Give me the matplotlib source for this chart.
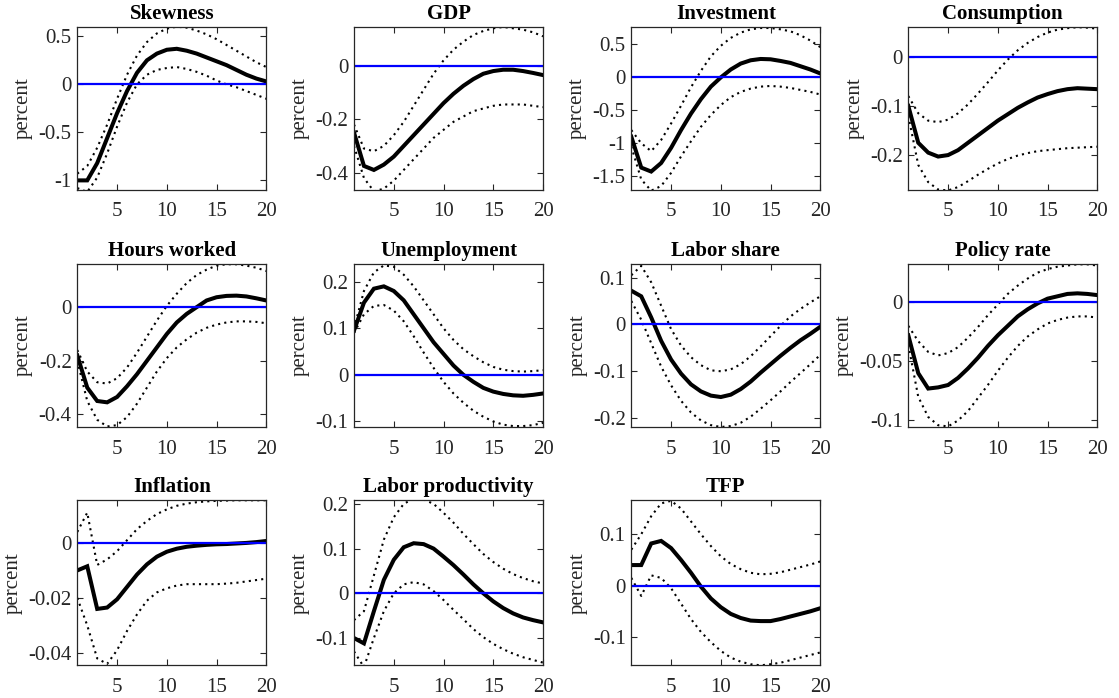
import numpy as np
import matplotlib
matplotlib.use("Agg")
from matplotlib import pyplot as plt
from matplotlib.ticker import FuncFormatter

plt.rcParams['font.family'] = ['Liberation Serif', 'DejaVu Serif']
plt.rcParams['axes.unicode_minus'] = False

horizon = np.arange(1, 21)

titles = ["Skewness", "GDP", "Investment", "Consumption",
          "Hours worked", "Unemployment", "Labor share", "Policy rate",
          "Inflation", "Labor productivity", "TFP"]

skew_med = [-1.0, -1.0, -0.82, -0.56, -0.3, -0.07, 0.12, 0.25, 0.32, 0.36, 0.37, 0.35, 0.32, 0.28, 0.24, 0.2, 0.15, 0.1, 0.06, 0.03]
skew_hi = [-0.93, -0.85, -0.66, -0.42, -0.15, 0.1, 0.3, 0.44, 0.53, 0.58, 0.6, 0.59, 0.56, 0.52, 0.47, 0.41, 0.35, 0.29, 0.23, 0.18]
skew_lo = [-1.08, -1.12, -0.97, -0.72, -0.44, -0.19, 0.0, 0.1, 0.15, 0.17, 0.18, 0.16, 0.13, 0.09, 0.04, 0.0, -0.03, -0.07, -0.11, -0.15]

gdp_med = [-0.25, -0.375, -0.39, -0.37, -0.34, -0.3, -0.26, -0.22, -0.18, -0.14, -0.105, -0.075, -0.05, -0.03, -0.02, -0.015, -0.015, -0.02, -0.027, -0.035]
gdp_hi = [-0.22, -0.31, -0.32, -0.3, -0.26, -0.21, -0.15, -0.09, -0.03, 0.02, 0.06, 0.09, 0.115, 0.13, 0.14, 0.145, 0.14, 0.135, 0.125, 0.11]
gdp_lo = [-0.3, -0.42, -0.47, -0.46, -0.43, -0.39, -0.35, -0.31, -0.27, -0.24, -0.21, -0.19, -0.17, -0.16, -0.15, -0.145, -0.145, -0.145, -0.15, -0.155]

inv_med = [-0.9, -1.37, -1.43, -1.3, -1.07, -0.8, -0.55, -0.33, -0.14, 0.0, 0.12, 0.21, 0.26, 0.28, 0.275, 0.25, 0.22, 0.17, 0.12, 0.06]
inv_hi = [-0.8, -1.0, -1.12, -0.95, -0.7, -0.43, -0.15, 0.1, 0.32, 0.48, 0.6, 0.68, 0.73, 0.75, 0.75, 0.73, 0.7, 0.64, 0.56, 0.46]
inv_lo = [-1.05, -1.55, -1.72, -1.65, -1.45, -1.2, -0.97, -0.75, -0.57, -0.42, -0.3, -0.22, -0.17, -0.14, -0.13, -0.14, -0.16, -0.19, -0.22, -0.26]

cons_med = [-0.1, -0.175, -0.195, -0.203, -0.2, -0.19, -0.175, -0.16, -0.145, -0.13, -0.117, -0.104, -0.093, -0.083, -0.076, -0.07, -0.066, -0.064, -0.065, -0.066]
cons_hi = [-0.08, -0.115, -0.13, -0.133, -0.128, -0.115, -0.097, -0.075, -0.052, -0.028, -0.006, 0.013, 0.028, 0.04, 0.049, 0.055, 0.058, 0.06, 0.059, 0.057]
cons_lo = [-0.12, -0.22, -0.255, -0.27, -0.272, -0.265, -0.253, -0.24, -0.228, -0.217, -0.208, -0.201, -0.196, -0.192, -0.19, -0.188, -0.186, -0.185, -0.184, -0.183]

hours_med = [-0.18, -0.3, -0.35, -0.355, -0.335, -0.295, -0.25, -0.2, -0.15, -0.1, -0.057, -0.025, 0.0, 0.025, 0.037, 0.042, 0.043, 0.04, 0.033, 0.025]
hours_hi = [-0.16, -0.24, -0.28, -0.285, -0.265, -0.225, -0.17, -0.11, -0.05, 0.005, 0.05, 0.09, 0.12, 0.14, 0.155, 0.16, 0.16, 0.155, 0.147, 0.135]
hours_lo = [-0.2, -0.35, -0.42, -0.445, -0.44, -0.41, -0.36, -0.3, -0.24, -0.19, -0.15, -0.12, -0.095, -0.077, -0.065, -0.057, -0.053, -0.053, -0.055, -0.06]

unemp_med = [0.095, 0.155, 0.185, 0.19, 0.18, 0.16, 0.13, 0.1, 0.07, 0.045, 0.02, 0.0, -0.015, -0.028, -0.036, -0.041, -0.044, -0.045, -0.043, -0.04]
unemp_hi = [0.1, 0.18, 0.22, 0.235, 0.232, 0.215, 0.19, 0.16, 0.13, 0.1, 0.075, 0.055, 0.04, 0.027, 0.017, 0.011, 0.008, 0.007, 0.008, 0.01]
unemp_lo = [0.09, 0.13, 0.148, 0.15, 0.138, 0.115, 0.083, 0.048, 0.015, -0.015, -0.04, -0.06, -0.077, -0.09, -0.1, -0.107, -0.11, -0.11, -0.108, -0.103]

lshare_med = [0.072, 0.06, 0.015, -0.035, -0.075, -0.105, -0.128, -0.143, -0.152, -0.155, -0.15, -0.138, -0.122, -0.103, -0.085, -0.067, -0.05, -0.034, -0.02, -0.005]
lshare_hi = [0.105, 0.125, 0.09, 0.04, -0.01, -0.045, -0.07, -0.087, -0.098, -0.1, -0.096, -0.085, -0.068, -0.047, -0.025, -0.003, 0.017, 0.033, 0.047, 0.06]
lshare_lo = [0.05, 0.01, -0.04, -0.09, -0.13, -0.163, -0.188, -0.205, -0.215, -0.219, -0.217, -0.21, -0.197, -0.18, -0.162, -0.143, -0.123, -0.104, -0.085, -0.065]

rate_med = [-0.028, -0.06, -0.073, -0.072, -0.07, -0.064, -0.056, -0.047, -0.037, -0.028, -0.02, -0.012, -0.006, -0.001, 0.003, 0.005, 0.007, 0.0075, 0.007, 0.006]
rate_hi = [-0.02, -0.033, -0.042, -0.045, -0.043, -0.038, -0.03, -0.021, -0.011, -0.002, 0.007, 0.014, 0.02, 0.025, 0.028, 0.03, 0.031, 0.032, 0.032, 0.031]
rate_lo = [-0.036, -0.08, -0.097, -0.104, -0.105, -0.1, -0.092, -0.081, -0.07, -0.058, -0.047, -0.037, -0.029, -0.023, -0.018, -0.015, -0.013, -0.012, -0.012, -0.013]

infl_med = [-0.01, -0.0085, -0.024, -0.0235, -0.0205, -0.016, -0.0115, -0.0078, -0.005, -0.0032, -0.0021, -0.0014, -0.001, -0.0007, -0.0005, -0.0004, -0.0002, 0.0, 0.0003, 0.0007]
infl_hi = [0.004, 0.011, -0.008, -0.006, -0.003, 0.001, 0.005, 0.008, 0.0105, 0.0122, 0.0135, 0.0143, 0.0148, 0.0151, 0.0153, 0.0154, 0.0155, 0.0155, 0.0155, 0.0155]
infl_lo = [-0.02, -0.03, -0.042, -0.044, -0.039, -0.032, -0.026, -0.021, -0.018, -0.0165, -0.0155, -0.015, -0.015, -0.015, -0.015, -0.0148, -0.0145, -0.014, -0.0135, -0.013]

lprod_med = [-0.1, -0.112, -0.04, 0.03, 0.075, 0.103, 0.112, 0.11, 0.1, 0.082, 0.063, 0.042, 0.02, 0.0, -0.018, -0.033, -0.045, -0.054, -0.06, -0.065]
lprod_hi = [-0.06, -0.04, 0.04, 0.12, 0.17, 0.2, 0.212, 0.21, 0.2, 0.18, 0.158, 0.133, 0.11, 0.088, 0.07, 0.055, 0.043, 0.034, 0.027, 0.022]
lprod_lo = [-0.13, -0.165, -0.1, -0.04, 0.0, 0.02, 0.025, 0.02, 0.005, -0.015, -0.037, -0.058, -0.08, -0.098, -0.113, -0.125, -0.135, -0.143, -0.149, -0.155]

tfp_med = [0.04, 0.04, 0.082, 0.087, 0.073, 0.05, 0.025, -0.002, -0.025, -0.042, -0.055, -0.063, -0.068, -0.069, -0.069, -0.065, -0.06, -0.055, -0.05, -0.044]
tfp_hi = [0.07, 0.1, 0.135, 0.16, 0.165, 0.15, 0.125, 0.1, 0.077, 0.057, 0.042, 0.032, 0.025, 0.022, 0.023, 0.026, 0.031, 0.036, 0.041, 0.047]
tfp_lo = [0.015, -0.02, 0.02, 0.015, -0.005, -0.035, -0.065, -0.09, -0.11, -0.127, -0.14, -0.148, -0.153, -0.155, -0.153, -0.15, -0.145, -0.14, -0.135, -0.13]

medians = [skew_med, gdp_med, inv_med, cons_med, hours_med, unemp_med,
           lshare_med, rate_med, infl_med, lprod_med, tfp_med]
uppers = [skew_hi, gdp_hi, inv_hi, cons_hi, hours_hi, unemp_hi,
          lshare_hi, rate_hi, infl_hi, lprod_hi, tfp_hi]
lowers = [skew_lo, gdp_lo, inv_lo, cons_lo, hours_lo, unemp_lo,
          lshare_lo, rate_lo, infl_lo, lprod_lo, tfp_lo]

y_limits = [(-1.1, 0.6), (-0.465, 0.146), (-1.71, 0.77), (-0.271, 0.061),
            (-0.447, 0.161), (-0.112, 0.238), (-0.219, 0.129), (-0.1055, 0.0323),
            (-0.0445, 0.0155), (-0.161, 0.208), (-0.155, 0.166)]
y_ticks = [[-1, -0.5, 0, 0.5], [-0.4, -0.2, 0], [-1.5, -1, -0.5, 0, 0.5],
           [-0.2, -0.1, 0], [-0.4, -0.2, 0], [-0.1, 0, 0.1, 0.2],
           [-0.2, -0.1, 0, 0.1], [-0.1, -0.05, 0], [-0.04, -0.02, 0],
           [-0.1, 0, 0.1, 0.2], [-0.1, 0, 0.1]]
x_ticks = [5, 10, 15, 20]

# pixel layout of the 3x4 grid
W, H = 1119, 698
col_left = [77.3, 354.0, 631.3, 908.3]
ax_w = 189.0
row_top = [26.7, 264.0, 500.3]
row_bottom = [190.0, 427.0, 665.3]
dark = '#262626'

fig = plt.figure(figsize=(W / 100, H / 100), dpi=100)

for i, name in enumerate(titles):
    r, c = divmod(i, 4)
    ax_h = row_bottom[r] - row_top[r]
    ax = fig.add_axes([col_left[c] / W, 1 - row_bottom[r] / H, ax_w / W, ax_h / H])
    ax.plot(horizon, medians[i], color='k', lw=2.9, solid_joinstyle='miter')
    ax.plot(horizon, uppers[i], color='k', lw=1.5, ls=(0, (1, 2)))
    ax.plot(horizon, lowers[i], color='k', lw=1.5, ls=(0, (1, 2)))
    ax.plot(horizon, np.zeros(len(horizon)), color='b', lw=1.6)
    ax.set_xlim(1, 20)
    ax.set_ylim(*y_limits[i])
    ax.set_xticks(x_ticks)
    ax.set_yticks(y_ticks[i])
    ax.yaxis.set_major_formatter(FuncFormatter(lambda v, p: '%g' % v))
    ax.tick_params(direction='in', top=True, right=True, length=4, width=0.8,
                   labelsize=15, colors=dark)
    ax.tick_params(axis='x', pad=9)
    ax.tick_params(axis='y', pad=4)
    for s in ax.spines.values():
        s.set_color(dark)
        s.set_linewidth(0.9)
    ax.set_title(name, fontsize=15, fontweight='bold', pad=5.8)
    ax.set_ylabel('percent', fontsize=15, color=dark, labelpad=4)

fig.savefig('out.png', dpi=100)
